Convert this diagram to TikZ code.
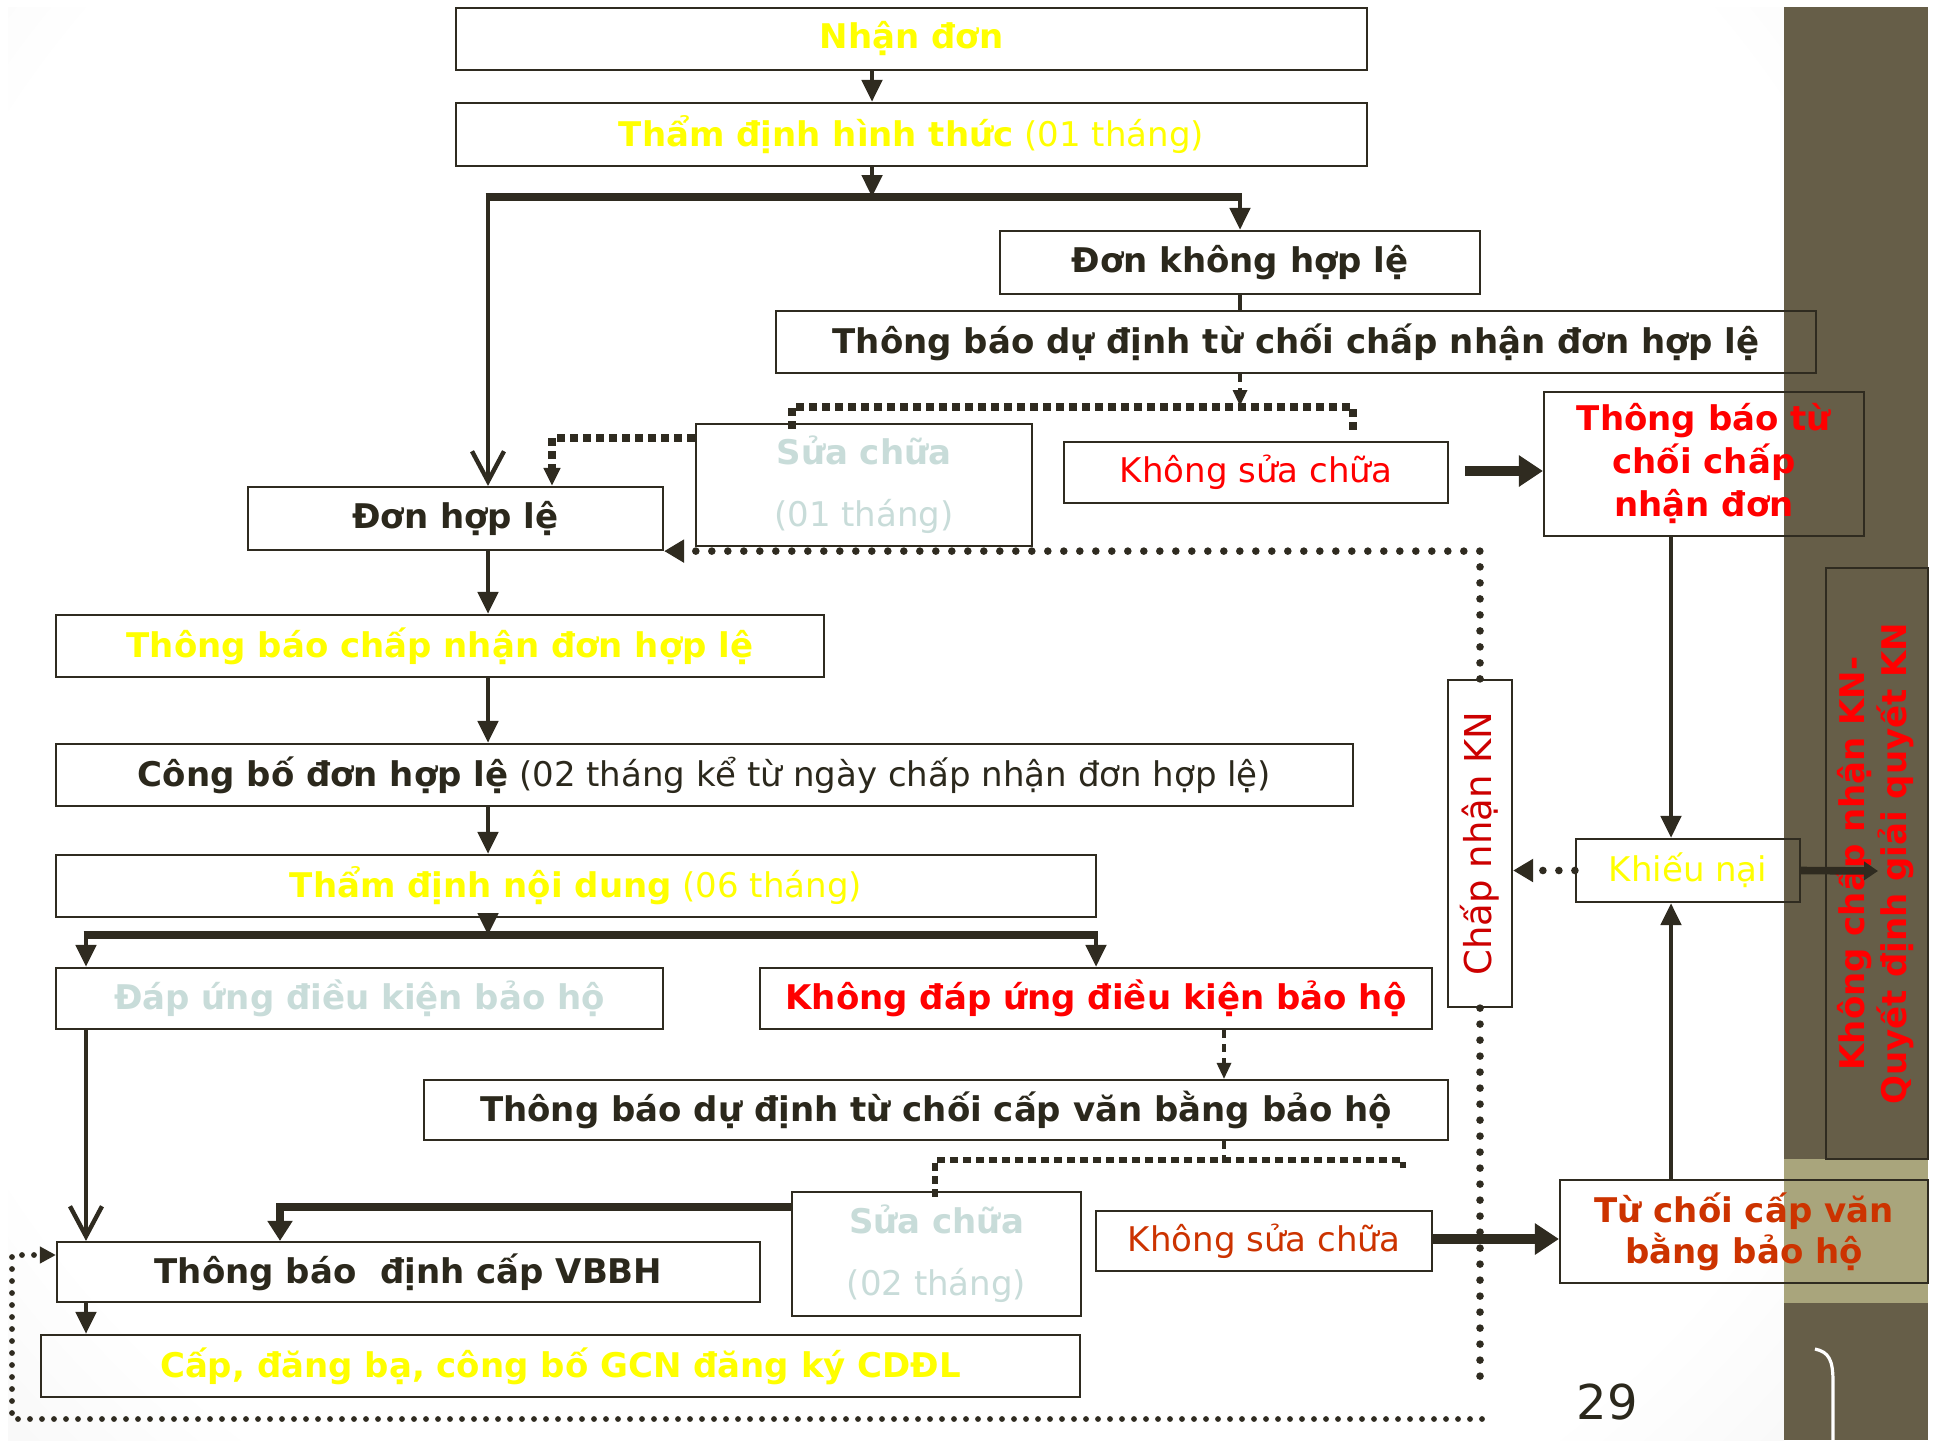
\documentclass[tikz,border=0pt]{standalone}
\usepackage{fontspec}
\usepackage{graphicx}
\setmainfont{DejaVu Sans}
\usetikzlibrary{arrows.meta,calc}
\definecolor{ink}{HTML}{2F2B20}
\definecolor{ylw}{HTML}{FFFF00}
\definecolor{pale}{HTML}{C8DCD9}
\definecolor{rd}{HTML}{FF0000}
\definecolor{drd}{HTML}{CC0000}
\definecolor{orr}{HTML}{CC3300}
\definecolor{bandc}{HTML}{665E48}
\definecolor{bandl}{HTML}{A9A57C}
\definecolor{txt}{HTML}{2B281C}
\pgfdeclareradialshading{slidebg}{\pgfpoint{0bp}{0bp}}{color(0bp)=(white); color(20bp)=(white); color(44bp)=(black!18); color(50bp)=(black!20)}
\newcommand\mkbox[7]{\node[bx,#6,minimum width={((#4)-(#2))*0.5pt},minimum height={((#5)-(#3))*0.5pt}] (#1) at ({((#2)+(#4))/2},{((#3)+(#5))/2}) {#7};}
\tikzset{
  bx/.style={draw=ink, line width=1.1pt, inner sep=0pt, align=center, font=\fontsize{17}{20}\selectfont},
  conn/.style={draw=ink, line width=2.4pt, -{Triangle[length=11pt,width=10pt]}},
  barline/.style={draw=ink, line width=3.8pt},
  vhead/.style={draw=ink, line width=2.4pt, -{Straight Barb[length=15pt,width=16pt,line width=2.2pt]}},
  dashln/.style={draw=ink, line width=1.6pt, dash pattern=on 4pt off 3pt},
  sqdash/.style={draw=ink, line width=3.8pt, dash pattern=on 4pt off 2.5pt},
  sqdashb/.style={draw=ink, line width=3pt, dash pattern=on 4pt off 2.5pt},
  rdot/.style={draw=ink, line width=3.8pt, line cap=round, dash pattern=on 0pt off 8pt},
  sdot/.style={draw=ink, line width=2.9pt, line cap=round, dash pattern=on 0pt off 6pt},
  fat/.style={draw=ink, line width=4.8pt, -{Triangle[length=12pt,width=15pt]}},
}
\begin{document}
\begin{tikzpicture}[x=0.5pt,y=-0.5pt]
\useasboundingbox (0,0) rectangle (1937,1440);
\fill[white] (0,0) rectangle (1937,1440);
\begin{scope}
\clip (8,7) rectangle (1784,1440);
\shade[shading=slidebg] (-400,-600) rectangle (2200,1900);
\end{scope}
\fill[bandc] (1784,7) rectangle (1928,1440);
\fill[bandl] (1784,1159) rectangle (1928,1303);
\draw[white, line width=1.6pt] (1815,1349) .. controls (1829,1352) and (1833,1360) .. (1833,1382) -- (1833,1440);
\node[font=\fontsize{24}{28}\selectfont, text=txt] (pg) at (1607,1402) {29};

% coordinates
\coordinate (Xa) at (872,0); \coordinate (Xb) at (488,0); \coordinate (Xc) at (1240,0);
\coordinate (Xd) at (792,0); \coordinate (Xe) at (1353,0); \coordinate (Xf) at (552,0);
\coordinate (Xg) at (1671,0); \coordinate (Xi) at (86,0); \coordinate (Xj) at (1096,0);
\coordinate (Xk) at (1224,0); \coordinate (Xl) at (935,0); \coordinate (Xm) at (1403,0);
\coordinate (Xn) at (280,0);
\coordinate (Y197) at (0,197); \coordinate (Y406) at (0,406); \coordinate (Y407) at (0,407);
\coordinate (Y438) at (0,438); \coordinate (Y471) at (0,471); \coordinate (Y935) at (0,935);
\coordinate (Y1160) at (0,1160); \coordinate (Y1168) at (0,1168); \coordinate (Y1207) at (0,1207);
\coordinate (Y1239) at (0,1239); \coordinate (Y1255) at (0,1255);

% boxes
\mkbox{n1}{456}{8}{1367}{70}{text=ylw,font=\fontsize{17}{20}\selectfont\bfseries}{Nhận đơn}
\mkbox{n2}{456}{103}{1367}{166}{text=ylw}{\textbf{Thẩm định hình thức} (01 tháng)}
\mkbox{n3}{1000}{231}{1480}{294}{text=txt,font=\fontsize{17}{20}\selectfont\bfseries}{Đơn không hợp lệ}
\mkbox{n4}{776}{311}{1816}{373}{text=txt,font=\fontsize{17}{20}\selectfont\bfseries}{Thông báo dự định từ chối chấp nhận đơn hợp lệ}
\mkbox{sc1}{696}{424}{1032}{546}{text=pale}{\textbf{Sửa chữa}\\[11pt](01 tháng)}
\mkbox{ks1}{1064}{442}{1448}{503}{text=rd}{Không sửa chữa}
\mkbox{tbtc}{1544}{392}{1864}{536}{text=rd,font=\fontsize{17}{21.5}\selectfont\bfseries}{Thông báo từ\\chối chấp\\nhận đơn}
\mkbox{dhl}{248}{487}{663}{550}{text=txt,font=\fontsize{17}{20}\selectfont\bfseries}{Đơn hợp lệ}
\mkbox{cn}{56}{615}{824}{677}{text=ylw,font=\fontsize{17}{20}\selectfont\bfseries}{Thông báo chấp nhận đơn hợp lệ}
\mkbox{cb}{56}{744}{1353}{806}{text=txt}{\textbf{Công bố đơn hợp lệ} (02 tháng kể từ ngày chấp nhận đơn hợp lệ)}
\mkbox{tdnd}{56}{855}{1096}{917}{text=ylw}{\textbf{Thẩm định nội dung} (06 tháng)}
\mkbox{du}{56}{968}{663}{1029}{text=pale,font=\fontsize{17}{20}\selectfont\bfseries}{Đáp ứng điều kiện bảo hộ}
\mkbox{kdu}{760}{968}{1432}{1029}{text=rd,font=\fontsize{17}{20}\selectfont\bfseries}{Không đáp ứng điều kiện bảo hộ}
\mkbox{tbc}{424}{1080}{1448}{1140}{text=txt,font=\fontsize{17}{20}\selectfont\bfseries}{Thông báo dự định từ chối cấp văn bằng bảo hộ}
\mkbox{sc2}{792}{1192}{1081}{1316}{text=pale}{\textbf{Sửa chữa}\\[11pt](02 tháng)}
\mkbox{ks2}{1096}{1211}{1432}{1271}{text=orr}{Không sửa chữa}
\mkbox{tcvb}{1560}{1180}{1928}{1283}{text=orr,font=\fontsize{17}{20.5}\selectfont\bfseries}{Từ chối cấp văn\\bằng bảo hộ}
\mkbox{vbbh}{57}{1242}{760}{1302}{text=txt,font=\fontsize{17}{20}\selectfont\bfseries}{Thông báo~ định cấp VBBH}
\mkbox{cap}{41}{1335}{1080}{1397}{text=ylw,font=\fontsize{17}{20}\selectfont\bfseries}{Cấp, đăng bạ, công bố GCN đăng ký CDĐL}
\mkbox{cnkn}{1448}{680}{1512}{1007}{text=drd,font=\fontsize{18.5}{20}\selectfont}{\rotatebox{90}{Chấp nhận KN}}
\mkbox{kn}{1576}{839}{1800}{902}{text=ylw}{Khiếu nại}
\mkbox{kqkn}{1826}{568}{1928}{1159}{text=rd,font=\fontsize{17}{20.5}\selectfont\bfseries}{\rotatebox{90}{\begin{tabular}{@{}c@{}}Không chấp nhận KN-\\Quyết định giải quyết KN\end{tabular}}}

% connectors top
\draw[conn] (n1.south -| Xa) -- (n2.north -| Xa);
\draw[conn] (n2.south -| Xa) -- (Xa |- Y197);
\draw[barline] ([xshift=-1.2pt]Xb |- Y197) -- ([xshift=1.2pt]Xc |- Y197);
\draw[vhead] (Xb |- Y197) -- (dhl.north -| Xb);
\draw[conn] (Xc |- Y197) -- (n3.north -| Xc);
\draw[draw=ink, line width=2.4pt] (n3.south -| Xc) -- (n4.north -| Xc);
\draw[dashln, -{Triangle[length=8pt,width=7pt]}] (n4.south -| Xc) -- (Xc |- Y406);
\draw[sqdash] ([yshift=-3pt]sc1.north -| Xd) |- (Xe |- Y407) -- ([yshift=3pt]ks1.north -| Xe);
\draw[sqdash, -{Triangle[length=9pt,width=8pt]}] (sc1.west |- Y438) -| (dhl.north -| Xf);
\draw[fat] ([xshift=8pt]ks1.east |- Y471) -- (tbtc.west |- Y471);
\draw[conn] (tbtc.south -| Xg) -- (kn.north -| Xg);
\draw[conn] (tcvb.north -| Xg) -- (kn.south -| Xg);
\draw[rdot, -{Triangle[length=10pt,width=11pt]}] (kn.west) -- (cnkn.east |- kn.west);
\coordinate (kne) at (1878,871);
\draw[draw=ink, line width=3.8pt, -{Triangle[length=7pt,width=9pt]}] (kn.east) -- (kne);
\draw[rdot, -{Triangle[length=10pt,width=11pt]}] (cnkn.north) |- (dhl.south east);
\coordinate (cnb) at (1480,1386);
\draw[rdot] (cnkn.south) -- (cnb);
\coordinate (bst) at (1482,1419);
\draw[sdot, -{Triangle[length=8pt,width=8pt]}] (bst) -- (12,1419) -- (12,1255) -- (vbbh.west |- Y1255);

% connectors middle
\draw[conn] (dhl.south -| Xb) -- (cn.north -| Xb);
\draw[conn] (cn.south -| Xb) -- (cb.north -| Xb);
\draw[conn] (cb.south -| Xb) -- (tdnd.north -| Xb);
\draw[conn] (tdnd.south -| Xb) -- (Xb |- Y935);
\draw[barline] ([xshift=-1.2pt]Xi |- Y935) -- ([xshift=1.2pt]Xj |- Y935);
\draw[conn] (Xi |- Y935) -- (du.north -| Xi);
\draw[conn] (Xj |- Y935) -- (kdu.north -| Xj);
\draw[vhead] (du.south -| Xi) -- (vbbh.north -| Xi);
\draw[dashln, -{Triangle[length=8pt,width=7pt]}] (kdu.south -| Xk) -- (tbc.north -| Xk);
\draw[dashln] (tbc.south -| Xk) -- (Xk |- Y1168);
\draw[sqdashb] ([yshift=-3pt]sc2.north -| Xl) |- (Xm |- Y1160) -- (Xm |- Y1168);
\draw[fat] (ks2.east |- Y1239) -- (tcvb.west |- Y1239);
\draw[draw=ink, line width=4.2pt, -{Triangle[length=10pt,width=12pt]}] (sc2.west |- Y1207) -| (vbbh.north -| Xn);
\draw[conn] (vbbh.south -| Xi) -- (cap.north -| Xi);
\end{tikzpicture}
\end{document}
